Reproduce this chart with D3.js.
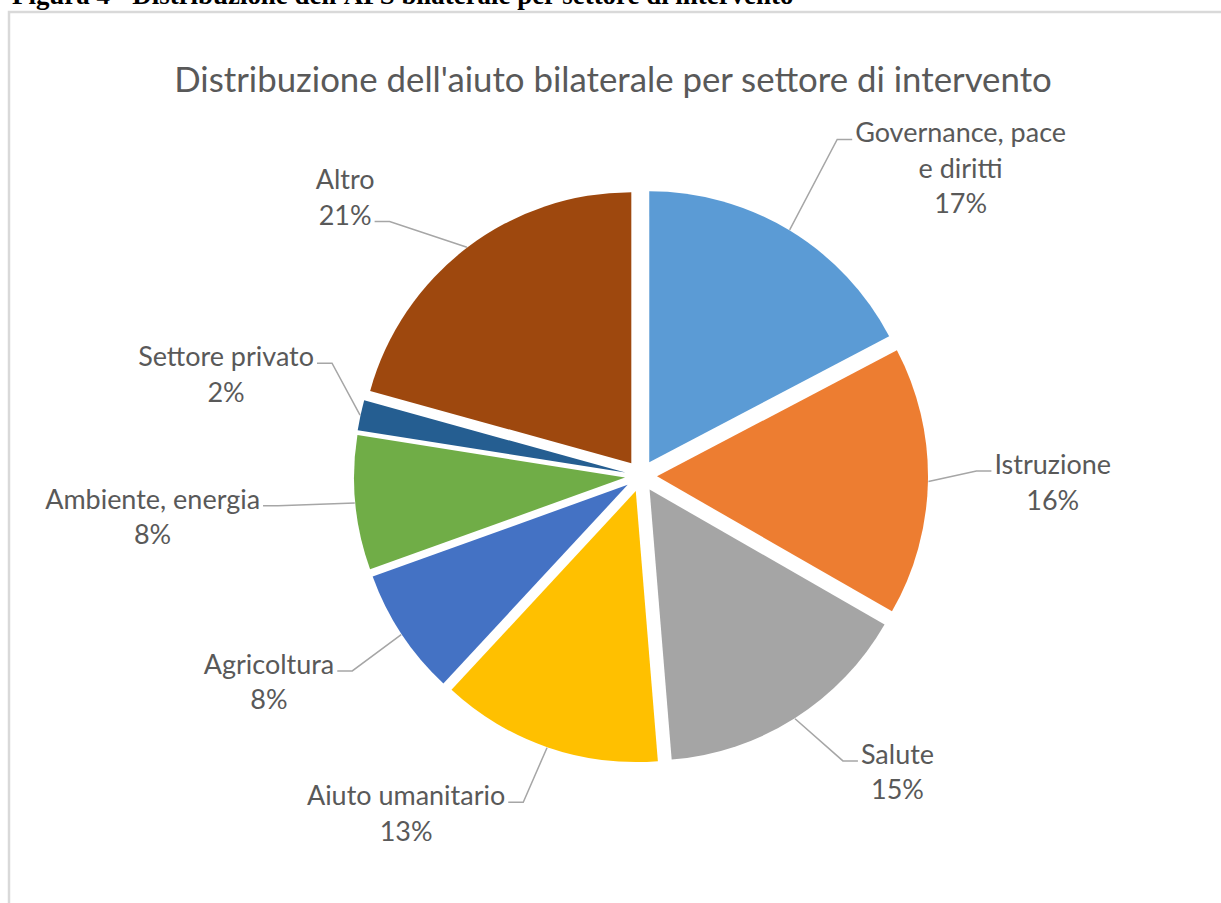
<!DOCTYPE html>
<html>
<head>
<meta charset="utf-8">
<script src="https://cdnjs.cloudflare.com/ajax/libs/d3/7.8.5/d3.min.js"></script>
<style>
  body { margin: 0; background: #fff; }
  svg { display: block; }
  .label { font-family: Lato, 'Open Sans', sans-serif; fill: #595959; }
  .leader { fill: none; stroke: #a6a6a6; stroke-width: 1.5; }
</style>
</head>
<body>
<svg></svg>
<script>
const sectors = ['Governance, pace e diritti', 'Istruzione', 'Salute', 'Aiuto umanitario', 'Agricoltura', 'Ambiente, energia', 'Settore privato', 'Altro'];
const shares = [17.3, 16.0, 15.4, 13.2, 7.6, 8.0, 1.8, 20.7];
const labelLines = [['Governance, pace', 'e diritti'], ['Istruzione'], ['Salute'], ['Aiuto umanitario'], ['Agricoltura'], ['Ambiente, energia'], ['Settore privato'], ['Altro']];
const colors = ['#5b9bd5', '#ed7d31', '#a5a5a5', '#ffc000', '#4472c4', '#70ad47', '#255e91', '#9e480e'];

// where excel put each label: angle (deg, clockwise from top), distance from centre, line the leader attaches to
const labelLayout = [
  { angle: 47.0, dist: 437, attach: 0 },
  { angle: 92.2, dist: 412, attach: 0 },
  { angle: 140.0, dist: 399, attach: 0 },
  { angle: 214.1, dist: 419, attach: 0 },
  { angle: 239.9, dist: 430, attach: 0 },
  { angle: 264.1, dist: 491, attach: 0 },
  { angle: 282.5, dist: 425, attach: 0 },
  { angle: 312.3, dist: 400, attach: 1 }
];

const width = 1221;
const height = 903;
const cx = 641;
const cy = 476;
const radius = 271;
const explode = 16;
const lineHeight = 35.5;

const svg = d3.select('svg')
  .attr('width', width)
  .attr('height', height);

// fit font size so that a text measures a target width
const fitText = (text, target) => {
  const len = text.node().getComputedTextLength();
  const size = parseFloat(text.attr('font-size'));
  text.attr('font-size', size * target / len);
  return size * target / len;
};

const header = svg.append('text')
  .attr('x', 12)
  .attr('y', 4)
  .attr('font-family', "'Liberation Serif', 'Times New Roman', serif")
  .attr('font-weight', 'bold')
  .attr('font-size', 20)
  .attr('fill', '#000')
  .text('Figura 4 - Distribuzione dell\'APS bilaterale per settore di intervento');
fitText(header, 782);

svg.append('rect')
  .attr('x', 9)
  .attr('y', 12)
  .attr('width', width + 20)
  .attr('height', height + 20)
  .attr('fill', '#fff')
  .attr('stroke', '#d9d9d9')
  .attr('stroke-width', 2.5);

const title = svg.append('text')
  .attr('class', 'label')
  .attr('x', 613)
  .attr('y', 92)
  .attr('text-anchor', 'middle')
  .attr('font-size', 30)
  .text('Distribuzione dell\'aiuto bilaterale per settore di intervento');
fitText(title, 878);

// measure label font size on the widest line
const probe = svg.append('text')
  .attr('class', 'label')
  .attr('font-size', 20)
  .text('Governance, pace');
const labelSize = fitText(probe, 211);
probe.remove();

const pie = d3.pie().sort(null).value(d => d);
const arcs = pie(shares);
const arc = d3.arc().innerRadius(0).outerRadius(radius);
const midAngle = d => (d.startAngle + d.endAngle) / 2;

const g = svg.append('g')
  .attr('transform', `translate(${cx}, ${cy})`);

g.selectAll('.slice')
  .data(arcs)
  .enter()
  .append('path')
  .attr('class', 'slice')
  .attr('transform', d => `translate(${explode * Math.sin(midAngle(d))}, ${-explode * Math.cos(midAngle(d))})`)
  .attr('d', arc)
  .attr('fill', (d, i) => colors[i]);

arcs.forEach((d, i) => {
  const a = midAngle(d);
  const lay = labelLayout[i];
  const la = lay.angle * Math.PI / 180;
  const lx = lay.dist * Math.sin(la);
  const midBase = -lay.dist * Math.cos(la);
  const lines = labelLines[i].concat([Math.round(shares[i]) + '%']);
  const first = midBase - (lines.length - 1) / 2 * lineHeight;

  const block = g.append('text')
    .attr('class', 'label')
    .attr('font-size', labelSize)
    .attr('text-anchor', 'middle');
  lines.forEach((t, k) => {
    block.append('tspan')
      .attr('x', lx)
      .attr('y', first + k * lineHeight)
      .text(t);
  });

  // leader from the slice edge to the label
  const tspan = block.selectAll('tspan').nodes()[lay.attach];
  const half = tspan.getComputedTextLength() / 2;
  const right = lay.angle < 180;
  const ax = right ? lx - half - 3 : lx + half + 3;
  const ay = first + lay.attach * lineHeight - 3;
  const ex = (radius + 0.5) * Math.sin(a) + explode * Math.sin(a);
  const ey = -(radius + 0.5) * Math.cos(a) - explode * Math.cos(a);
  const elbowX = right ? ax - 15 : ax + 15;

  g.append('path')
    .attr('class', 'leader')
    .attr('d', d3.line()([[ex, ey], [elbowX, ay], [ax, ay]]));
});
</script>
</body>
</html>
